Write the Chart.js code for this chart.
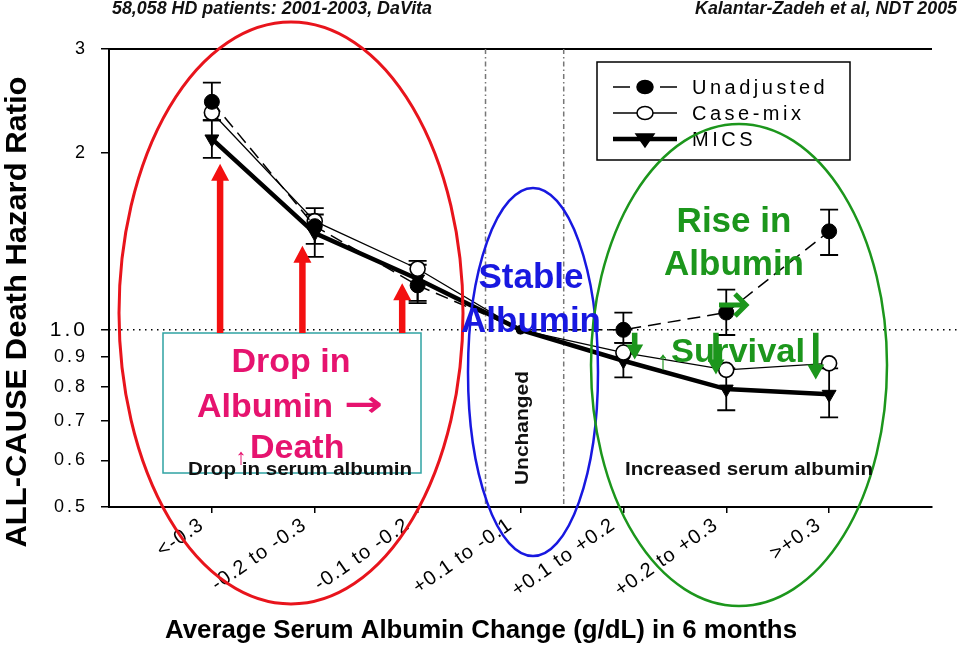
<!DOCTYPE html>
<html>
<head>
<meta charset="utf-8">
<script src="https://cdn.jsdelivr.net/npm/chart.js@4.4.1/dist/chart.umd.min.js"></script>
<style>
html, body { margin: 0; padding: 0; background: #fff; }
#wrap { width: 960px; height: 645px; position: relative; }
</style>
</head>
<body>
<div id="wrap"><canvas id="myChart"></canvas></div>
<script>
// albumin change groups (x axis)
const categories = ['<-0.3', '-0.2 to -0.3', '-0.1 to -0.2', '+0.1 to -0.1', '+0.1 to +0.2', '+0.2 to +0.3', '>+0.3']
const yTicks = [0.5, 0.6, 0.7, 0.8, 0.9, 1, 2, 3]

// hazard ratios
const unadjusted = [2.44, 1.50, 1.19, 1.00, 1.00, 1.07, 1.47]
const caseMix = [2.34, 1.53, 1.27, 1.00, 0.915, 0.855, 0.877]
const mics = [2.11, 1.46, 1.22, 1.00, 0.886, 0.793, 0.777]

// 95% CI whiskers
const unadjustedLow = [2.27, 1.40, 1.11, null, 0.95, 0.98, 1.34]
const unadjustedHigh = [2.63, 1.61, 1.31, null, 1.07, 1.17, 1.60]
const micsLow = [1.96, 1.33, 1.12, null, 0.83, 0.73, 0.71]
const micsHigh = [2.27, 1.57, 1.29, null, 0.95, 0.86, 0.86]

const FONT = "'Liberation Sans', Arial, sans-serif"
const PINK = '#e6136f'
const GREEN = '#1c961c'
const BLUE = '#1818e0'
const RED = '#e8141c'

const points = (arr) => arr.map((v, i) => ({ x: i, y: v }))
const smallAtZero = (r) => (c) => (c.dataIndex === 3 ? 4 : r)

// o.width squeezes/stretches the text to that width
function text(ctx, str, x, y, font, color, o = {}) {
    ctx.save()
    ctx.font = font
    ctx.fillStyle = color
    ctx.textAlign = o.align || 'center'
    ctx.textBaseline = o.baseline || 'alphabetic'
    if (o.spacing) ctx.letterSpacing = o.spacing
    ctx.translate(x, y)
    if (o.rotate) ctx.rotate(o.rotate)
    if (o.width) ctx.scale(o.width / ctx.measureText(str).width, 1)
    ctx.fillText(str, 0, 0)
    ctx.restore()
}

function ellipse(ctx, cx, cy, rx, ry, color, w) {
    ctx.save()
    ctx.strokeStyle = color
    ctx.lineWidth = w
    ctx.beginPath()
    ctx.ellipse(cx, cy, rx, ry, 0, 0, Math.PI * 2)
    ctx.stroke()
    ctx.restore()
}

// vertical block arrow, tip at yTip
function arrow(ctx, x, yBase, yTip, color, shaft, headW, headH) {
    const dir = yTip < yBase ? 1 : -1
    const yNeck = yTip + dir * headH
    ctx.save()
    ctx.fillStyle = color
    ctx.beginPath()
    ctx.moveTo(x - shaft / 2, yBase)
    ctx.lineTo(x - shaft / 2, yNeck)
    ctx.lineTo(x - headW / 2, yNeck)
    ctx.lineTo(x, yTip)
    ctx.lineTo(x + headW / 2, yNeck)
    ctx.lineTo(x + shaft / 2, yNeck)
    ctx.lineTo(x + shaft / 2, yBase)
    ctx.closePath()
    ctx.fill()
    ctx.restore()
}

// letter spacing of the tick labels (y labels are spaced wider)
const spacing = {
    id: 'spacing',
    afterLayout(chart) {
        const s = chart.scales.y
        if (s._spaced) return
        const drawLabels = s.drawLabels.bind(s)
        s.drawLabels = (area) => {
            const old = chart.ctx.letterSpacing
            chart.ctx.letterSpacing = '3px'
            drawLabels(area)
            chart.ctx.letterSpacing = old
        }
        s._spaced = true
    },
    beforeDraw(chart) { chart.ctx.letterSpacing = '1.2px' },
    beforeDatasetsDraw(chart) { chart.ctx.letterSpacing = '0px' },
}

const backdrop = {
    id: 'backdrop',
    beforeDatasetsDraw(chart) {
        const { ctx, chartArea: a, scales: { x, y } } = chart
        ctx.save()
        // top frame line
        ctx.strokeStyle = '#000'
        ctx.lineWidth = 2
        ctx.beginPath()
        ctx.moveTo(a.left, a.top)
        ctx.lineTo(a.right, a.top)
        ctx.stroke()
        // reference line at HR = 1
        const y1 = y.getPixelForValue(1)
        ctx.lineWidth = 1.5
        ctx.setLineDash([1.5, 4.5])
        ctx.beginPath()
        ctx.moveTo(a.left, y1)
        ctx.lineTo(a.right + 26, y1)
        ctx.stroke()
        // dash-dot bounds of the "unchanged" group
        ctx.strokeStyle = '#777'
        ctx.setLineDash([5, 3, 1.5, 3])
        ;[2.66, 3.42].forEach((v) => {
            const px = x.getPixelForValue(v)
            ctx.beginPath()
            ctx.moveTo(px, a.top)
            ctx.lineTo(px, a.bottom)
            ctx.stroke()
        })
        ctx.setLineDash([])
        // error bars
        ctx.strokeStyle = '#000'
        ctx.lineWidth = 1.8
        ;[[unadjustedLow, unadjustedHigh], [micsLow, micsHigh]].forEach(([lo, hi]) => {
            lo.forEach((v, i) => {
                if (v == null) return
                const px = x.getPixelForValue(i)
                const ya = y.getPixelForValue(v)
                const yb = y.getPixelForValue(hi[i])
                ctx.beginPath()
                ctx.moveTo(px, ya); ctx.lineTo(px, yb)
                ctx.moveTo(px - 9, ya); ctx.lineTo(px + 9, ya)
                ctx.moveTo(px - 9, yb); ctx.lineTo(px + 9, yb)
                ctx.stroke()
            })
        })
        ctx.restore()
    },
}

const overlay = {
    id: 'overlay',
    afterDraw(chart) {
        const { ctx, scales: { x, y } } = chart
        const y1 = y.getPixelForValue(1)

        // titles
        text(ctx, '58,058 HD patients: 2001-2003, DaVita', 112, 14, `italic bold 18px ${FONT}`, '#111', { align: 'left', width: 320 })
        text(ctx, 'Kalantar-Zadeh et al, NDT 2005', 957, 14, `italic bold 18px ${FONT}`, '#111', { align: 'right', width: 262 })
        text(ctx, 'ALL-CAUSE Death Hazard Ratio', 18, 312, `bold 30px ${FONT}`, '#000', { rotate: -Math.PI / 2, baseline: 'middle', width: 471 })
        text(ctx, 'Average Serum Albumin Change (g/dL) in 6 months', 481, 638, `bold 25px ${FONT}`, '#000', { width: 632 })

        // legend
        ctx.save()
        ctx.strokeStyle = '#000'
        ctx.lineWidth = 1.5
        ctx.strokeRect(597, 62, 253, 98)
        const rows = [87, 113, 139]
        chart.data.datasets.forEach((ds, i) => {
            const ry = rows[i]
            ctx.strokeStyle = '#000'
            ctx.lineWidth = ds.borderWidth
            ctx.beginPath()
            if (ds.borderDash) {
                ctx.moveTo(613, ry); ctx.lineTo(630, ry)
                ctx.moveTo(660, ry); ctx.lineTo(677, ry)
            } else {
                ctx.moveTo(613, ry); ctx.lineTo(677, ry)
            }
            ctx.stroke()
            ctx.lineWidth = 1.5
            ctx.fillStyle = ds.pointBackgroundColor
            ctx.beginPath()
            if (ds.pointStyle === 'triangle') {
                ctx.moveTo(636, ry - 5); ctx.lineTo(654, ry - 5); ctx.lineTo(645, ry + 8)
                ctx.closePath()
            } else {
                ctx.ellipse(645, ry, 8, 6.5, 0, 0, Math.PI * 2)
            }
            ctx.fill()
            ctx.stroke()
            text(ctx, ds.label, 692, ry + 7, `20px ${FONT}`, '#000', { align: 'left', spacing: '3.5px' })
        })
        ctx.restore()

        // group ellipses
        ellipse(ctx, 291, 313, 172, 291, RED, 3)
        ellipse(ctx, 533, 372, 65, 184, BLUE, 2.5)
        ellipse(ctx, 739, 365, 148, 241, GREEN, 2.5)

        // drop side
        ctx.save()
        ctx.strokeStyle = '#2fa3a3'
        ctx.lineWidth = 1.5
        ctx.strokeRect(163, 333, 258, 140)
        ctx.restore()
        ;[[0.08, 1.915], [0.88, 1.39], [1.85, 1.2]].forEach(([xv, yv]) => {
            arrow(ctx, x.getPixelForValue(xv), 333, y.getPixelForValue(yv), '#f31010', 6.5, 18, 17)
        })
        text(ctx, 'Drop in', 291, 372, `bold 34px ${FONT}`, PINK)
        text(ctx, 'Albumin', 197, 417, `bold 34px ${FONT}`, PINK, { align: 'left' })
        text(ctx, '\u2192', 344, 416, `bold 36px 'DejaVu Sans', ${FONT}`, PINK, { align: 'left', width: 39 })
        text(ctx, '\u2191', 241, 464, `22px ${FONT}`, PINK)
        text(ctx, 'Death', 250, 458, `bold 34px ${FONT}`, PINK, { align: 'left' })
        text(ctx, 'Drop in serum albumin', 300, 475, `bold 18px ${FONT}`, '#111', { width: 224 })

        // stable
        text(ctx, 'Unchanged', 523, 428, `bold 18px ${FONT}`, '#111', { rotate: -Math.PI / 2, baseline: 'middle', width: 114 })
        text(ctx, 'Stable', 531, 288, `bold 35px ${FONT}`, BLUE)
        text(ctx, 'Albumin', 531, 332, `bold 35px ${FONT}`, BLUE)

        // rise side
        text(ctx, 'Rise in', 734, 232, `bold 35px ${FONT}`, GREEN)
        text(ctx, 'Albumin', 734, 275, `bold 35px ${FONT}`, GREEN)
        ctx.save()
        ctx.strokeStyle = GREEN
        ctx.lineWidth = 5
        ctx.beginPath()
        ctx.moveTo(719, 305); ctx.lineTo(744, 305)
        ctx.moveTo(735, 294); ctx.lineTo(746, 305); ctx.lineTo(735, 316)
        ctx.stroke()
        ctx.restore()
        text(ctx, '\u2191', 663, 369, `26px ${FONT}`, GREEN)
        text(ctx, 'Survival', 671, 362, `bold 34px ${FONT}`, GREEN, { align: 'left', width: 134 })
        ;[[4.11, 0.89], [4.9, 0.84], [5.87, 0.823]].forEach(([xv, yv]) => {
            arrow(ctx, x.getPixelForValue(xv), y1 + 3, y.getPixelForValue(yv), GREEN, 5.5, 17, 15)
        })
        text(ctx, 'Increased serum albumin', 749, 475, `bold 18px ${FONT}`, '#111', { width: 248 })
    },
}

const ctx = document.getElementById('myChart')
const chart = new Chart(ctx, {
    type: 'line',
    data: {
        datasets: [
            {
                label: 'Unadjusted',
                data: points(unadjusted),
                borderColor: '#000',
                borderWidth: 1.5,
                borderDash: [13, 7],
                pointStyle: 'circle',
                pointRadius: smallAtZero(7.5),
                pointBackgroundColor: '#000',
                pointBorderColor: '#000',
                pointBorderWidth: 1,
            },
            {
                label: 'Case-mix',
                data: points(caseMix),
                borderColor: '#000',
                borderWidth: 1.3,
                pointStyle: 'circle',
                pointRadius: smallAtZero(7.5),
                pointBackgroundColor: '#fff',
                pointBorderColor: '#000',
                pointBorderWidth: 1.6,
            },
            {
                label: 'MICS',
                data: points(mics),
                borderColor: '#000',
                borderWidth: 4.5,
                pointStyle: 'triangle',
                pointRotation: 180,
                pointRadius: smallAtZero(8),
                pointBackgroundColor: '#000',
                pointBorderColor: '#000',
                pointBorderWidth: 1,
            },
        ],
    },
    options: {
        responsive: true,
        maintainAspectRatio: false,
        animation: false,
        layout: { padding: { top: 49, right: 28, left: 0, bottom: 0 } },
        elements: { line: { tension: 0 } },
        plugins: {
            legend: { display: false },
            tooltip: { enabled: false },
        },
        scales: {
            x: {
                type: 'linear',
                min: -1,
                max: 7,
                afterBuildTicks: (s) => { s.ticks = categories.map((c, i) => ({ value: i })) },
                afterFit: (s) => { s.height = 138 },
                ticks: {
                    callback: (v) => categories[v],
                    autoSkip: false,
                    minRotation: 35,
                    maxRotation: 35,
                    padding: 0,
                    labelOffset: -10,
                    color: '#000',
                    font: { family: FONT, size: 20 },
                },
                grid: { drawOnChartArea: false, tickLength: 6, color: '#000', lineWidth: 1.5 },
                border: { color: '#000', width: 2 },
            },
            y: {
                type: 'logarithmic',
                min: 0.5,
                max: 3,
                afterBuildTicks: (s) => { s.ticks = yTicks.map((v) => ({ value: v })) },
                afterFit: (s) => { s.width = 109 },
                ticks: {
                    callback: (v) => (v === 1 ? '1.0' : v >= 2 ? String(v) : v.toFixed(1)),
                    padding: 13,
                    color: '#000',
                    font: (c) => ({ family: FONT, size: c.tick && c.tick.value === 1 ? 21 : 18 }),
                },
                grid: { drawOnChartArea: false, tickLength: 8, color: '#000', lineWidth: 1.5 },
                border: { color: '#000', width: 2 },
            },
        },
    },
    plugins: [spacing, backdrop, overlay],
})
</script>
</body>
</html>
